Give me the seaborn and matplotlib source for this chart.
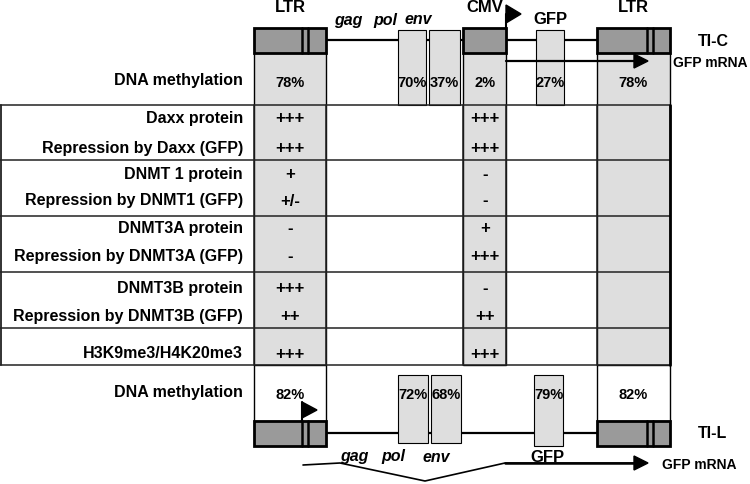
import matplotlib
matplotlib.use("Agg")
import matplotlib.pyplot as plt
from matplotlib.patches import Rectangle, Polygon
import seaborn as sns

sns.set_theme(style="white")
plt.rcParams['font.family'] = ['Liberation Sans', 'DejaVu Sans']

# ---- data ----
row_labels = ["Daxx protein", "Repression by Daxx (GFP)",
              "DNMT 1 protein", "Repression by DNMT1 (GFP)",
              "DNMT3A protein", "Repression by DNMT3A (GFP)",
              "DNMT3B protein", "Repression by DNMT3B (GFP)",
              "H3K9me3/H4K20me3"]
ltr_values = ["+++", "+++", "+", "+/-", "-", "-", "+++", "++", "+++"]
cmv_values = ["+++", "+++", "-", "-", "+", "+++", "-", "++", "+++"]
tic_regions = ["LTR", "pol", "env", "CMV", "GFP", "LTR3"]
tic_methylation = ["78%", "70%", "37%", "2%", "27%", "78%"]
til_regions = ["LTR", "pol", "env", "GFP", "LTR3"]
til_methylation = ["82%", "72%", "68%", "79%", "82%"]

DARK = "#9a9a9a"
LIGHT = "#dedede"

fig = plt.figure(figsize=(7.5, 4.84), dpi=100)
ax = fig.add_axes([0, 0, 1, 1])
ax.set_xlim(0, 750)
ax.set_ylim(484, 0)
ax.axis("off")

def rect(x0, x1, y0, y1, fc, lw=0.8, ec="black", z=1):
    ax.add_patch(Rectangle((x0, y0), x1 - x0, y1 - y0, facecolor=fc,
                           edgecolor=ec, linewidth=lw, zorder=z))

def txt(x, y, s, size=11.5, ha="center", style="normal", weight="bold"):
    ax.text(x, y, s, ha=ha, va="center", fontsize=size, fontweight=weight,
            fontstyle=style, color="black", zorder=10)

def ltr_box(x0, x1, y0, y1, i1, i2):
    rect(x0, x1, y0, y1, DARK, lw=2.0, z=5)
    ax.plot([i1, i1], [y0, y1], color="black", lw=1.8, zorder=6)
    ax.plot([i2, i2], [y0, y1], color="black", lw=1.8, zorder=6)

# ---- table grey columns ----
rect(254, 326, 52, 365, LIGHT, lw=1.0, z=1)
rect(463, 506, 52, 365, LIGHT, lw=1.0, z=1)
rect(597, 670, 52, 365, LIGHT, lw=1.0, z=1)

# table rows
row_lines = [105, 160, 216, 272, 328, 365]
for y in row_lines:
    ax.plot([0, 670], [y, y], color="#222222", lw=1.1, zorder=3)
ax.plot([0.8, 0.8], [105, 365], color="#222222", lw=1.3, zorder=3)
ax.plot([670, 670], [105, 365], color="black", lw=2.0, zorder=3)
for x in [254, 326, 463, 506, 597]:
    ax.plot([x, x], [105, 365], color="#222222", lw=1.1, zorder=3)

row_y = [118, 148, 175, 201, 228, 256, 288, 317, 354]
for lab, lv, cv, y in zip(row_labels, ltr_values, cmv_values, row_y):
    txt(243, y, lab, size=11.5, ha="right")
    txt(290, y, lv, size=12)
    txt(485, y, cv, size=12)

# ---- TI-C construct (top) ----
ax.plot([326, 598], [40, 40], color="black", lw=1.6, zorder=2)
rect(398, 426, 30, 105, LIGHT, lw=0.8, z=2)
rect(429, 460, 30, 105, LIGHT, lw=0.8, z=2)
rect(536, 564, 30, 105, LIGHT, lw=0.8, z=2)
ltr_box(254, 326, 28, 53, 302, 308)
rect(463, 506, 28, 53, DARK, lw=2.0, z=5)
ltr_box(597, 670, 28, 53, 647, 653)
# CMV promoter flag
ax.plot([506, 506], [28, 14], color="black", lw=1.5, zorder=6)
ax.add_patch(Polygon([[506, 5], [521, 14], [506, 23]], closed=True,
                     facecolor="black", edgecolor="black", zorder=6))
# mRNA arrow
ax.plot([506, 636], [61, 61], color="black", lw=1.6, zorder=6)
ax.add_patch(Polygon([[634, 54], [648, 61], [634, 68]], closed=True,
                     facecolor="black", edgecolor="black", zorder=6))

txt(290, 7, "LTR", size=12)
txt(348, 20, "gag", size=11.5, style="italic")
txt(385, 20, "pol", size=11.5, style="italic")
txt(418, 20, "env", size=11.5, style="italic")
txt(485, 7, "CMV", size=12)
txt(550, 20, "GFP", size=12)
txt(633, 7, "LTR", size=12)
txt(698, 41, "TI-C", size=11.5, ha="left")
txt(673, 63, "GFP mRNA", size=10, ha="left")
txt(243, 80, "DNA methylation", size=11.5, ha="right")
tic_x = [290, 412, 444, 485, 550, 633]
for x, v in zip(tic_x, tic_methylation):
    txt(x, 83, v, size=10.5)

# ---- TI-L construct (bottom) ----
rect(254, 326, 365, 421, "white", lw=1.0, z=1)
rect(597, 670, 365, 421, "white", lw=1.0, z=1)
ax.plot([326, 597], [433, 433], color="black", lw=1.6, zorder=2)
rect(398, 428, 375, 443, LIGHT, lw=0.8, z=3)
rect(431, 461, 375, 443, LIGHT, lw=0.8, z=3)
rect(534, 563, 375, 446, LIGHT, lw=0.8, z=3)
ltr_box(254, 326, 421, 446, 302, 308)
ltr_box(597, 670, 421, 446, 647, 653)
# LTR promoter flag
ax.plot([302, 302], [421, 402], color="black", lw=1.5, zorder=6)
ax.add_patch(Polygon([[302, 402], [317, 410], [302, 418]], closed=True,
                     facecolor="black", edgecolor="black", zorder=6))
# spliced mRNA
ax.plot([303, 340, 425, 505, 636], [465, 463, 481, 463, 463],
        color="black", lw=1.2, zorder=6)
ax.plot([505, 636], [463, 463], color="black", lw=1.8, zorder=6)
ax.add_patch(Polygon([[634, 456], [648, 463], [634, 470]], closed=True,
                     facecolor="black", edgecolor="black", zorder=6))

txt(243, 392, "DNA methylation", size=11.5, ha="right")
til_x = [290, 413, 446, 549, 633]
for x, v in zip(til_x, til_methylation):
    txt(x, 395, v, size=10.5)
txt(698, 434, "TI-L", size=11.5, ha="left")
txt(354, 456, "gag", size=11.5, style="italic")
txt(393, 457, "pol", size=11.5, style="italic")
txt(436, 457, "env", size=11.5, style="italic")
txt(547, 458, "GFP", size=12)
txt(662, 465, "GFP mRNA", size=10, ha="left")

fig.savefig("out.png", dpi=100)
